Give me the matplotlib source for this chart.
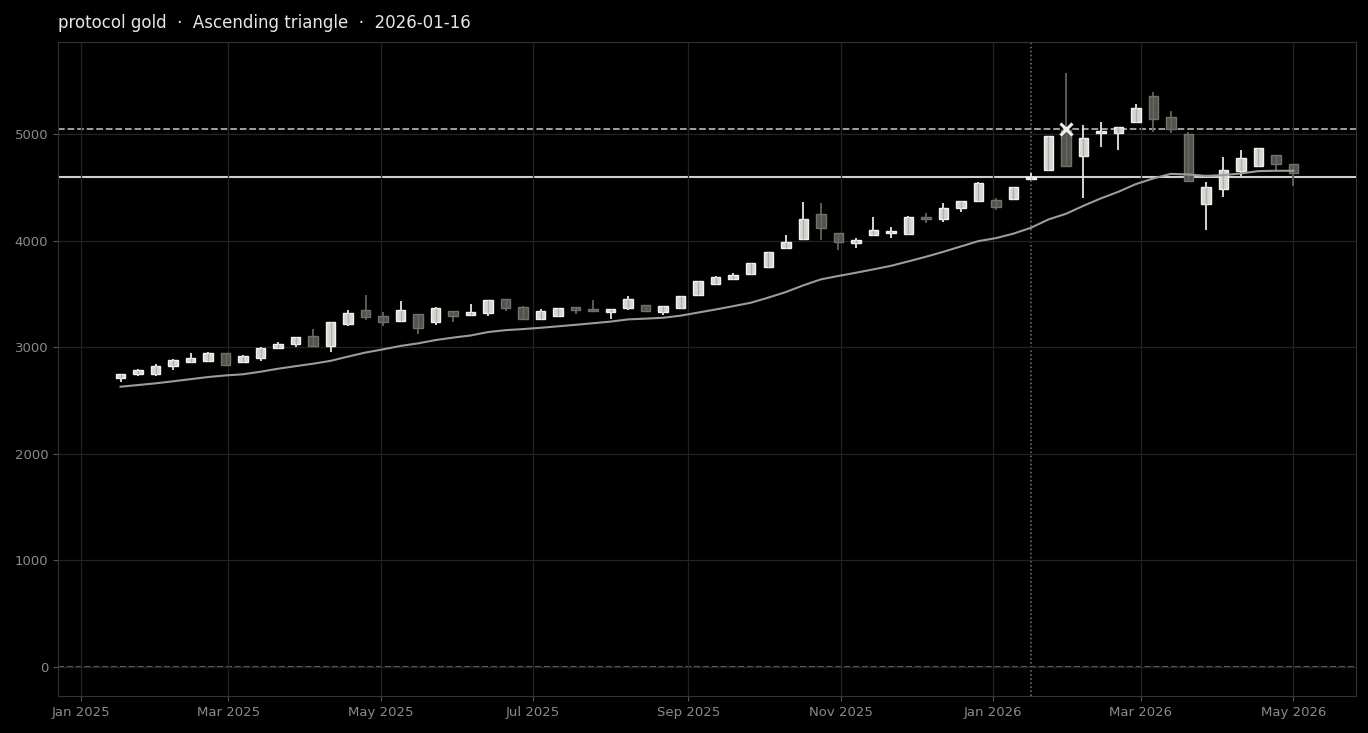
import pandas as pd
import matplotlib
matplotlib.use('Agg')
import matplotlib.pyplot as plt
import matplotlib.dates as mdates

# Weekly candles (Fridays)
dates = pd.date_range('2025-01-17', periods=68, freq='W-FRI')

opens = [2707, 2745, 2750, 2820, 2857, 2873, 2942, 2863, 2901, 2995,
         3026, 3104, 3013, 3214, 3345, 3289, 3242, 3308, 3233, 3336,
         3298, 3317, 3448, 3373, 3261, 3295, 3373, 3354, 3326, 3364,
         3392, 3326, 3364, 3486, 3589, 3636, 3683, 3748, 3927, 4011,
         4245, 4067, 3974, 4054, 4067, 4058, 4226, 4198, 4302, 4367,
         4377, 4386, 4576, 4658, 5036, 4795, 5011, 5014, 5114, 5352,
         5155, 5002, 4345, 4480, 4649, 4696, 4799, 4715]
highs = [2752, 2797, 2839, 2891, 2942, 2954, 2948, 2923, 2998, 3048,
         3098, 3167, 3240, 3345, 3489, 3332, 3429, 3310, 3376, 3340,
         3401, 3445, 3451, 3383, 3354, 3370, 3376, 3439, 3357, 3476,
         3395, 3386, 3480, 3622, 3664, 3692, 3790, 3892, 4049, 4358,
         4349, 4070, 4020, 4226, 4123, 4230, 4255, 4349, 4370, 4551,
         4396, 4505, 4633, 4980, 5573, 5080, 5108, 5070, 5277, 5395,
         5217, 5017, 4546, 4780, 4846, 4870, 4805, 4720]
lows = [2670, 2726, 2732, 2782, 2855, 2867, 2830, 2857, 2873, 2985,
        3004, 3004, 2951, 3195, 3251, 3195, 3233, 3123, 3207, 3238,
        3295, 3289, 3336, 3251, 3257, 3280, 3308, 3332, 3261, 3345,
        3326, 3304, 3360, 3480, 3585, 3632, 3680, 3745, 3924, 4005,
        4002, 3908, 3927, 4039, 4020, 4055, 4161, 4170, 4264, 4364,
        4283, 4380, 4570, 4655, 4692, 4396, 4880, 4846, 5105, 5017,
        5008, 4546, 4095, 4405, 4602, 4692, 4658, 4508]
closes = [2750, 2782, 2820, 2876, 2895, 2942, 2835, 2914, 2992, 3026,
          3092, 3008, 3233, 3320, 3280, 3233, 3345, 3176, 3370, 3289,
          3326, 3439, 3364, 3266, 3336, 3364, 3351, 3336, 3354, 3448,
          3336, 3383, 3476, 3617, 3655, 3673, 3786, 3889, 3983, 4198,
          4114, 3983, 4002, 4095, 4089, 4226, 4204, 4302, 4367, 4536,
          4311, 4499, 4595, 4977, 4701, 4958, 5027, 5061, 5240, 5142,
          5045, 4561, 4499, 4658, 4771, 4865, 4715, 4630]
moving_avg = [2629, 2645, 2661, 2680, 2700, 2720, 2735, 2746, 2770, 2798,
              2822, 2845, 2872, 2912, 2950, 2980, 3012, 3036, 3067, 3090,
              3110, 3142, 3160, 3170, 3182, 3196, 3210, 3225, 3240, 3261,
              3268, 3276, 3296, 3325, 3354, 3385, 3417, 3465, 3517, 3580,
              3636, 3668, 3698, 3730, 3763, 3805, 3848, 3895, 3945, 3995,
              4023, 4065, 4120, 4198, 4251, 4326, 4396, 4458, 4530, 4583,
              4626, 4620, 4607, 4614, 4630, 4652, 4655, 4655]

resistance = 5050
breakout_level = 4600
signal_date = pd.Timestamp('2026-01-16')
marker_date = pd.Timestamp('2026-01-30')

fig = plt.figure(figsize=(13.68, 7.33), dpi=100, facecolor='black')
ax = fig.add_axes([0.0424, 0.0505, 0.9488, 0.8922])
ax.set_facecolor('black')

# grid
ax.grid(True, color='#222222', linewidth=0.9, zorder=0)

# reference lines
ax.axhline(0, color='#777777', linestyle='--', linewidth=1.2, zorder=1)
ax.axhline(resistance, color='#aaaaaa', linestyle='--', linewidth=1.3, zorder=1)
ax.axhline(breakout_level, color='#cfcfcf', linestyle='-', linewidth=1.5, zorder=1)
ax.axvline(signal_date, color='#777777', linestyle=':', linewidth=1.1, zorder=1)

# candles
width = pd.Timedelta(days=3.8)
for d, o, h, l, c in zip(dates, opens, highs, lows, closes):
    if c >= o:
        face, edge, wick, mid = '#d6d6d2', '#f2f2ee', '#e6e6e2', '#b0b0ac'
    else:
        face, edge, wick, mid = '#53534e', '#72726b', '#63635e', '#6a6a64'
    ax.vlines(d, l, h, color=wick, linewidth=1.3, zorder=2)
    ax.bar(d, abs(c - o), bottom=min(o, c), width=width, color=face,
           edgecolor=edge, linewidth=1.0, zorder=3)
    ax.vlines(d, min(o, c), max(o, c), color=mid, linewidth=1.0, zorder=4)

# moving average
ax.plot(dates, moving_avg, color='#9c9c9c', linewidth=1.5, zorder=4)

# marker
ax.plot([marker_date], [resistance], marker='x', color='#f0f0f0',
        markersize=9, markeredgewidth=2.2, zorder=5)

ax.set_xlim(pd.Timestamp('2024-12-23'), pd.Timestamp('2026-05-26'))
ax.set_ylim(-272, 5863)
ax.set_yticks([0, 1000, 2000, 3000, 4000, 5000])
ax.xaxis.set_major_locator(mdates.MonthLocator(bymonth=[1, 3, 5, 7, 9, 11]))
ax.xaxis.set_major_formatter(mdates.DateFormatter('%b %Y'))

for s in ax.spines.values():
    s.set_color('#333333')
ax.tick_params(colors='#555555', labelcolor='#8a8a8a', labelsize=9.5)

fig.text(0.0424, 0.962, 'protocol gold  ·  Ascending triangle  ·  2026-01-16',
         color='#e6e6e6', fontsize=12, ha='left', va='baseline')

plt.savefig('out.png', dpi=100, facecolor='black')
